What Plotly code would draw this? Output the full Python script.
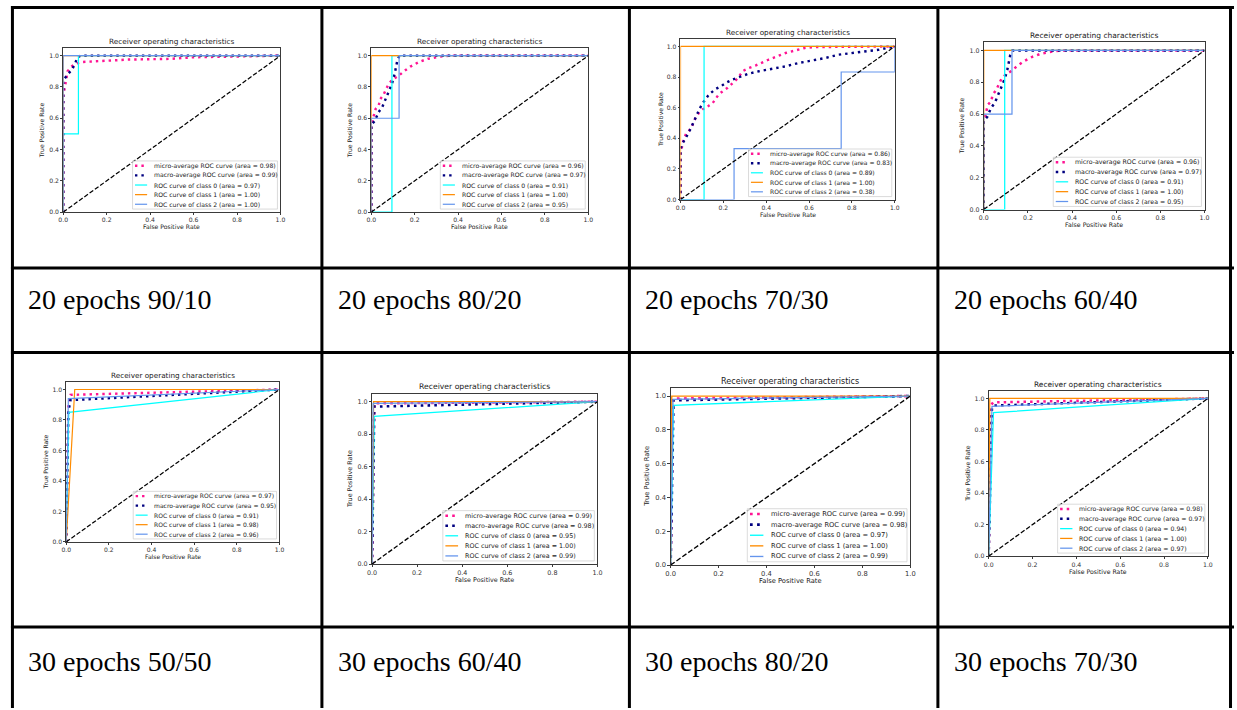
import plotly.graph_objects as go

W, H = 1237, 710

# ---- table captions ----
captions = ["20 epochs 90/10", "20 epochs 80/20", "20 epochs 70/30", "20 epochs 60/40",
            "30 epochs 50/50", "30 epochs 60/40", "30 epochs 80/20", "30 epochs 70/30"]

# ---- areas under the curves, one value per panel ----
micro_area = [0.98, 0.96, 0.86, 0.96, 0.97, 0.99, 0.99, 0.98]
macro_area = [0.99, 0.97, 0.83, 0.97, 0.95, 0.98, 0.98, 0.97]
class0_area = [0.97, 0.91, 0.89, 0.91, 0.91, 0.95, 0.97, 0.94]
class1_area = [1.00, 1.00, 1.00, 1.00, 0.98, 1.00, 1.00, 1.00]
class2_area = [1.00, 0.95, 0.38, 0.95, 0.96, 0.99, 0.99, 0.97]

# ---- ROC curves, one row per panel ----
micro_fpr = [
    [0, 0, 0.014, 0.02, 0.037, 0.06, 0.09, 0.2, 0.3, 0.5, 0.6, 0.8, 1],
    [0, 0, 0.01, 0.02, 0.034, 0.04, 0.056, 0.067, 0.08, 0.1, 0.125, 0.15, 0.18, 0.22, 0.26, 0.32, 0.36, 1],
    [0, 0, 0.008, 0.014, 0.026, 0.04, 0.054, 0.065, 0.076, 0.088, 0.104, 0.122, 0.134, 0.15, 0.165,
     0.18, 0.2, 0.22, 0.243, 0.266, 0.292, 0.32, 0.35, 0.38, 0.41, 0.45, 0.49, 0.536, 0.58, 0.63, 1],
    [0, 0, 0.01, 0.02, 0.034, 0.04, 0.056, 0.067, 0.08, 0.1, 0.125, 0.15, 0.18, 0.22, 0.26, 0.32, 0.36, 1],
    [0, 0.01, 0.02, 1],
    [0, 0.01, 1],
    [0, 0.01, 1],
    [0, 0.012, 0.02, 1],
]
micro_tpr = [
    [0, 0.74, 0.85, 0.9, 0.93, 0.95, 0.96, 0.968, 0.975, 0.98, 0.99, 0.995, 1],
    [0, 0.55, 0.61, 0.66, 0.68, 0.72, 0.75, 0.78, 0.82, 0.85, 0.87, 0.9, 0.93, 0.96, 0.98, 0.995, 1, 1],
    [0, 0.3, 0.35, 0.39, 0.43, 0.45, 0.48, 0.52, 0.545, 0.57, 0.59, 0.6, 0.615, 0.63, 0.66,
     0.69, 0.71, 0.73, 0.76, 0.79, 0.84, 0.86, 0.875, 0.896, 0.913, 0.935, 0.957, 0.974, 0.99, 0.996, 1],
    [0, 0.55, 0.61, 0.66, 0.68, 0.72, 0.75, 0.78, 0.82, 0.85, 0.87, 0.9, 0.93, 0.96, 0.98, 0.995, 1, 1],
    [0, 0.9, 0.965, 1],
    [0, 0.99, 1],
    [0, 0.985, 1],
    [0, 0.96, 0.975, 1],
]
macro_fpr = [
    [0, 0, 0.02, 0.04, 0.055, 0.065, 0.08, 1],
    [0, 0, 0.015, 0.034, 0.05, 0.064, 0.08, 0.095, 0.107, 0.113, 0.12, 0.13, 1],
    [0, 0, 0.011, 0.023, 0.034, 0.05, 0.065, 0.076, 0.088, 0.104, 0.116, 0.127, 0.142, 0.165, 0.189,
     0.212, 0.243, 0.274, 0.32, 0.366, 0.428, 0.49, 0.552, 0.614, 0.675, 0.737, 0.8, 0.86, 0.923, 1],
    [0, 0, 0.015, 0.034, 0.05, 0.064, 0.08, 0.095, 0.107, 0.113, 0.12, 0.13, 1],
    [0, 0.01, 0.02, 1],
    [0, 0.01, 1],
    [0, 0.012, 1],
    [0, 0.015, 0.025, 1],
]
macro_tpr = [
    [0, 0.84, 0.88, 0.91, 0.95, 0.99, 1, 1],
    [0, 0.56, 0.58, 0.64, 0.67, 0.72, 0.77, 0.82, 0.88, 0.93, 0.97, 1, 1],
    [0, 0.33, 0.37, 0.405, 0.426, 0.47, 0.52, 0.55, 0.59, 0.63, 0.654, 0.675, 0.697, 0.723, 0.74,
     0.762, 0.784, 0.8, 0.823, 0.838, 0.855, 0.87, 0.892, 0.907, 0.924, 0.946, 0.957, 0.968, 0.978, 1],
    [0, 0.56, 0.58, 0.64, 0.67, 0.72, 0.77, 0.82, 0.88, 0.93, 0.97, 1, 1],
    [0, 0.85, 0.93, 1],
    [0, 0.97, 1],
    [0, 0.975, 1],
    [0, 0.94, 0.955, 1],
]
class0_fpr = [
    [0, 0, 0.07, 0.07, 1],
    [0, 0.095, 0.095, 1],
    [0, 0.11, 0.11, 1],
    [0, 0.095, 0.095, 1],
    [0, 0.012, 1],
    [0, 0.01, 1],
    [0, 0.012, 1],
    [0, 0.022, 1],
]
class0_tpr = [
    [0, 0.5, 0.5, 1, 1],
    [0, 0, 1, 1],
    [0, 0, 1, 1],
    [0, 0, 1, 1],
    [0, 0.85, 1],
    [0, 0.91, 1],
    [0, 0.945, 1],
    [0, 0.91, 1],
]
class1_fpr = [
    [0, 0, 1],
    [0, 0, 1],
    [0, 0, 1],
    [0, 0, 1],
    [0, 0.04, 1],
    [0, 0.007, 1],
    [0, 0.005, 1],
    [0, 0.005, 1],
]
class1_tpr = [
    [0, 1, 1],
    [0, 1, 1],
    [0, 1, 1],
    [0, 1, 1],
    [0, 1, 1],
    [0, 1, 1],
    [0, 1, 1],
    [0, 1, 1],
]
class2_fpr = [
    [0, 0, 1],
    [0, 0, 0.128, 0.128, 1],
    [0, 0.25, 0.25, 0.75, 0.75, 1, 1],
    [0, 0, 0.128, 0.128, 1],
    [0, 0.01, 1],
    [0, 0.005, 1],
    [0, 0.01, 1],
    [0, 0.015, 1],
]
class2_tpr = [
    [0, 1, 1],
    [0, 0.6, 0.6, 1, 1],
    [0, 0, 0.333, 0.333, 0.833, 0.833, 1],
    [0, 0.6, 0.6, 1, 1],
    [0, 0.94, 1],
    [0, 0.99, 1],
    [0, 0.98, 1],
    [0, 0.95, 1],
]
chance_fpr = [0, 1]
chance_tpr = [0, 1]

# ---- page geometry (pixels) ----
# plot frame per panel: x of FPR=0, x of FPR=1, y of TPR=0, y of TPR=1, figure scale
frames = [
    (58.7, 277.7, 213.3, 56.0, 0.44),
    (369.3, 588.0, 213.3, 56.0, 0.44),
    (681.0, 897.0, 200.7, 46.7, 0.435),
    (986.7, 1209.3, 210.7, 50.7, 0.45),
    (61.7, 276.7, 545.0, 391.7, 0.435),
    (370.0, 597.3, 567.3, 404.0, 0.46),
    (671.0, 912.7, 568.3, 398.3, 0.485),
    (991.7, 1212.7, 559.3, 400.7, 0.447),
]
col_lines = [7.5, 319.5, 629.5, 940.5, 1235.5]
row_lines = [7.5, 269.5, 354.5, 630.5]
caption_y = [301, 665]

FONT = "DejaVu Sans"
SERIF = "Times New Roman, Liberation Serif, Tinos, DejaVu Serif, serif"
C_MICRO, C_MACRO = "#FF1493", "#000080"
C_CLS = ["#00FFFF", "#FF8C00", "#6495ED"]


def fx(p):
    return p / W


def fy(p):
    return 1 - p / H


fig = go.Figure()
shapes = []
annotations = []
layout_axes = {}

for i, (x0, x1, y0, y1, s) in enumerate(frames):
    k = i + 1
    xs, ys = (f"x{k}", f"y{k}") if k > 1 else ("x", "y")
    ytop = y1 - 0.05 * (y0 - y1)
    lw_thick = 5.56 * s
    lw_thin = 2.78 * s
    dotted = f"{lw_thick:.1f}px,{1.65 * lw_thick:.1f}px"
    dashed = f"{7.4 * 1.39 * s:.1f}px,{3.2 * 1.39 * s:.1f}px"

    series = [
        (micro_fpr[i], micro_tpr[i], C_MICRO, lw_thick, dotted,
         f"micro-average ROC curve (area = {micro_area[i]:.2f})"),
        (macro_fpr[i], macro_tpr[i], C_MACRO, lw_thick, dotted,
         f"macro-average ROC curve (area = {macro_area[i]:.2f})"),
        (class0_fpr[i], class0_tpr[i], C_CLS[0], lw_thin, "solid",
         f"ROC curve of class 0 (area = {class0_area[i]:.2f})"),
        (class1_fpr[i], class1_tpr[i], C_CLS[1], lw_thin, "solid",
         f"ROC curve of class 1 (area = {class1_area[i]:.2f})"),
        (class2_fpr[i], class2_tpr[i], C_CLS[2], lw_thin, "solid",
         f"ROC curve of class 2 (area = {class2_area[i]:.2f})"),
    ]
    for fpr, tpr, col, lw, dash, name in series:
        fig.add_trace(go.Scatter(x=fpr, y=tpr, mode="lines", name=name,
                                 line=dict(color=col, width=lw, dash=dash),
                                 xaxis=xs, yaxis=ys, showlegend=False, hoverinfo="skip"))
    fig.add_trace(go.Scatter(x=chance_fpr, y=chance_tpr, mode="lines",
                             line=dict(color="black", width=lw_thin, dash=dashed),
                             xaxis=xs, yaxis=ys, showlegend=False, hoverinfo="skip"))

    tick_fs = 13.9 * s
    common = dict(showline=True, mirror=True, linecolor="#3a3a3a", linewidth=0.7,
                  ticks="outside", ticklen=4.86 * s, tickwidth=0.7, tickcolor="#3a3a3a",
                  tickfont=dict(family=FONT, size=tick_fs, color="#333"),
                  showgrid=False, zeroline=False, fixedrange=True,
                  tick0=0, dtick=0.2, tickformat=".1f")
    layout_axes[f"xaxis{k if k > 1 else ''}"] = dict(
        domain=[fx(x0), fx(x1)], range=[0, 1], anchor=ys, **common)
    layout_axes[f"yaxis{k if k > 1 else ''}"] = dict(
        domain=[fy(y0), fy(ytop)], range=[0, 1.05], anchor=xs, **common)

    # title and axis labels
    annotations.append(dict(text="Receiver operating characteristics", xref="paper", yref="paper",
                            x=fx((x0 + x1) / 2), y=fy(ytop - 14.7 * s), showarrow=False,
                            xanchor="center", yanchor="middle",
                            font=dict(family=FONT, size=16.7 * s, color="#222")))
    annotations.append(dict(text="False Positive Rate", xref="paper", yref="paper",
                            x=fx((x0 + x1) / 2), y=fy(y0 + 34 * s), showarrow=False,
                            xanchor="center", yanchor="middle",
                            font=dict(family=FONT, size=tick_fs, color="#222")))
    annotations.append(dict(text="True Positive Rate", xref="paper", yref="paper",
                            x=fx(x0 - 48 * s), y=fy((y0 + ytop) / 2), showarrow=False,
                            textangle=-90, xanchor="center", yanchor="middle",
                            font=dict(family=FONT, size=tick_fs, color="#222")))

    # legend box (lower right)
    lg_w, lg_h = 332 * s, 110 * s
    lg_r = x1 - 6.9 * s
    lg_b = y0 - 6.9 * s
    lg_l, lg_t = lg_r - lg_w, lg_b - lg_h
    shapes.append(dict(type="rect", xref="paper", yref="paper", layer="above",
                       x0=fx(lg_l), x1=fx(lg_r), y0=fy(lg_b), y1=fy(lg_t),
                       fillcolor="rgba(255,255,255,0.8)", line=dict(color="#cccccc", width=0.7)))
    for j, (_, _, col, lw, dash, name) in enumerate(series):
        cy = lg_t + 11 * s + j * 22 * s
        hx0 = lg_l + 5.6 * s
        hx1 = hx0 + 27.8 * s
        shapes.append(dict(type="line", xref="paper", yref="paper", layer="above",
                           x0=fx(hx0), x1=fx(hx1), y0=fy(cy), y1=fy(cy),
                           line=dict(color=col, width=lw, dash=dash)))
        annotations.append(dict(text=name, xref="paper", yref="paper",
                                x=fx(hx1 + 11.1 * s), y=fy(cy), showarrow=False,
                                xanchor="left", yanchor="middle",
                                font=dict(family=FONT, size=tick_fs, color="#222")))

# table grid
for cx in col_lines:
    shapes.append(dict(type="line", xref="paper", yref="paper", layer="above",
                       x0=fx(cx), x1=fx(cx), y0=fy(6), y1=fy(H + 2),
                       line=dict(color="black", width=3)))
for ry in row_lines:
    shapes.append(dict(type="line", xref="paper", yref="paper", layer="above",
                       x0=fx(6), x1=fx(W + 2), y0=fy(ry), y1=fy(ry),
                       line=dict(color="black", width=3)))

# captions under each chart
for i, cap in enumerate(captions):
    row, col = divmod(i, 4)
    annotations.append(dict(text=cap, xref="paper", yref="paper",
                            x=fx(col_lines[col] + 14), y=fy(caption_y[row]), showarrow=False,
                            xanchor="left", yanchor="middle",
                            font=dict(family=SERIF, size=28, color="black")))

fig.update_layout(width=W, height=H, margin=dict(l=0, r=0, t=0, b=0, pad=0),
                  paper_bgcolor="white", plot_bgcolor="white", showlegend=False,
                  shapes=shapes, annotations=annotations, **layout_axes)

fig.write_html("out.html", config={"displayModeBar": False})
